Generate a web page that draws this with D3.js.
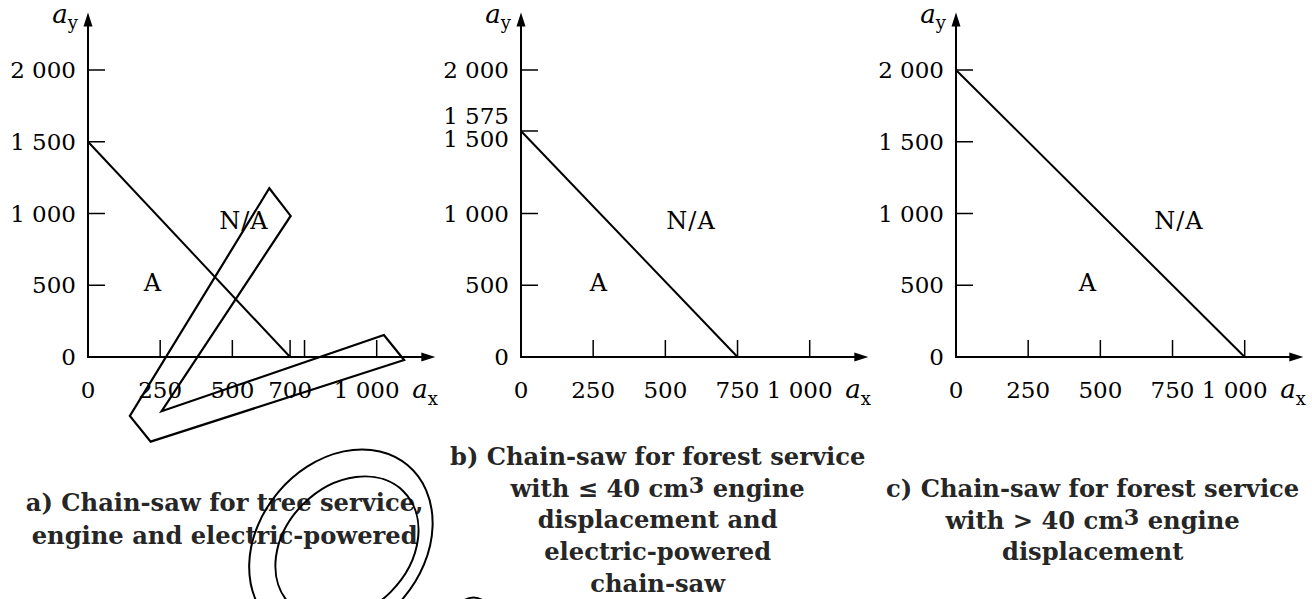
<!DOCTYPE html>
<meta charset="utf-8">
<script src="https://d3js.org/d3.v7.min.js"></script>
<style>
body { margin: 0; background: #fff; }
.tick-label { font-family: "DejaVu Serif", serif; font-size: 23px; fill: #000; }
.region { font-family: "DejaVu Serif", serif; font-size: 24px; fill: #000; letter-spacing: 1px; }
.axis-name { font-family: "DejaVu Serif", serif; font-size: 26px; fill: #000; }
.title { font-family: "DejaVu Serif", serif; font-weight: bold; font-size: 24.2px; fill: #262626; }
</style>
<body>
<div id="chart"></div>
</body>
<script>

// limit line of each panel: a_y on the y axis, a_x on the x axis
const axLimit = [700, 750, 1000];
const ayLimit = [1500, 1575, 2000];

// ticks drawn on each axis
const xTicks = [[250, 500, 700, 750, 1000], [250, 500, 750, 1000], [250, 500, 750, 1000]];
const yTicks = [[500, 1000, 1500, 2000], [500, 1000, 1575, 2000], [500, 1000, 1500, 2000]];

// tick labels
const xLabels = [[0, 250, 500, 700, 1000], [0, 250, 500, 750, 1000], [0, 250, 500, 750, 1000]];
const yLabels = [[0, 500, 1000, 1500, 2000], [0, 500, 1000, 1500, 1575, 2000], [0, 500, 1000, 1500, 2000]];

// where the "A" and "N/A" words sit (a_x, a_y)
const acceptX = [225, 270, 457];
const acceptY = [516, 516, 516];
const notAcceptX = [540, 589, 772];
const notAcceptY = [948, 948, 948];

// captions under each panel
const titles = [
	["a) Chain-saw for tree service,", "engine and electric-powered"],
	["b) Chain-saw for forest service", "with ≤ 40 cm3 engine", "displacement and", "electric-powered", "chain-saw"],
	["c) Chain-saw for forest service", "with > 40 cm3 engine", "displacement"]
];

// saw sketch drawn over panel a, in panel a units
const sawX = [628, 702, 255, 1025, 1095, 217, 145];
const sawY = [1176, 983, -378, 153, -21, -590, -411];
// handle rings (centre in panel a units)
const ringX = [876, 897, 1335];
const ringY = [-1310, -1331, -2094];

const width = 1312, height = 599;
const originX = [88, 521, 956];
const plotW = 288.7; // pixels for 1000 units
const fmt = d3.formatLocale({decimal: ".", thousands: " ", grouping: [3], currency: ["", ""]}).format(",d");

const svg = d3.select("#chart")
	.append("svg")
		.attr("width", width)
		.attr("height", height);

const line = d3.line();

function drawPanel(i) {
	const x = d3.scaleLinear().domain([0, 1000]).range([originX[i], originX[i] + plotW]);
	const y = d3.scaleLinear().domain([0, 2000]).range([357, 70]);
	const g = svg.append("g");

	// axes with arrow heads
	const xTip = x(1203), yTip = y(2400);
	g.append("path")
		.attr("d", line([[x(0), y(0)], [xTip - 10, y(0)]]))
		.attr("stroke", "#000").attr("stroke-width", 2).attr("fill", "none");
	g.append("path")
		.attr("d", line([[xTip, y(0)], [xTip - 14, y(0) - 4.5], [xTip - 14, y(0) + 4.5]]) + "Z")
		.attr("fill", "#000");
	g.append("path")
		.attr("d", line([[x(0), y(0) + 1], [x(0), yTip + 10]]))
		.attr("stroke", "#000").attr("stroke-width", 2).attr("fill", "none");
	g.append("path")
		.attr("d", line([[x(0), yTip], [x(0) - 4.5, yTip + 14], [x(0) + 4.5, yTip + 14]]) + "Z")
		.attr("fill", "#000");

	// ticks
	g.selectAll(".xt").data(xTicks[i]).enter().append("line")
		.attr("x1", d => x(d)).attr("x2", d => x(d))
		.attr("y1", y(0)).attr("y2", y(0) - 17)
		.attr("stroke", "#000").attr("stroke-width", 1.5);
	g.selectAll(".yt").data(yTicks[i]).enter().append("line")
		.attr("x1", x(0)).attr("x2", x(0) + 17)
		.attr("y1", d => y(d)).attr("y2", d => y(d))
		.attr("stroke", "#000").attr("stroke-width", 1.5);

	// tick labels
	g.selectAll(".xl").data(xLabels[i]).enter().append("text")
		.attr("class", "tick-label")
		.attr("x", d => x(d) - (d >= 1000 ? 10 : 0))
		.attr("y", y(0) + 41)
		.attr("text-anchor", "middle")
		.text(d => fmt(d));
	g.selectAll(".yl").data(yLabels[i]).enter().append("text")
		.attr("class", "tick-label")
		.attr("x", x(0) - 12)
		.attr("y", d => y(d))
		.attr("dy", d => {
			// 1 575 and 1 500 sit close together in panel b
			if (i == 1 && d == 1575) return "-0.3em";
			if (i == 1 && d == 1500) return "0.22em";
			return "0.35em";
		})
		.attr("text-anchor", "end")
		.text(d => fmt(d));

	// axis names
	const ay = g.append("text").attr("class", "axis-name")
		.attr("x", x(0) - 10).attr("y", 23).attr("text-anchor", "end");
	ay.append("tspan").style("font-style", "italic").text("a");
	ay.append("tspan").attr("font-size", 18).attr("dy", 6).text("y");
	const axn = g.append("text").attr("class", "axis-name")
		.attr("x", x(1123)).attr("y", y(0) + 41);
	axn.append("tspan").style("font-style", "italic").text("a");
	axn.append("tspan").attr("font-size", 18).attr("dy", 7).text("x");

	// limit line
	g.append("path")
		.attr("d", line([[x(0), y(ayLimit[i])], [x(axLimit[i]), y(0)]]))
		.attr("stroke", "#000").attr("stroke-width", 2).attr("fill", "none");

	// region words
	g.append("text").attr("class", "region")
		.attr("x", x(acceptX[i])).attr("y", y(acceptY[i])).attr("dy", "0.35em")
		.attr("text-anchor", "middle").text("A");
	g.append("text").attr("class", "region")
		.attr("x", x(notAcceptX[i])).attr("y", y(notAcceptY[i])).attr("dy", "0.35em")
		.attr("text-anchor", "middle").text("N/A");

	// caption
	const cx = (x(0) + x(1203)) / 2 - 37;
	const top = [511, 465, 497][i];
	const lh = i == 0 ? 33 : 31.7;
	const t = g.append("text").attr("class", "title").attr("text-anchor", "middle");
	titles[i].forEach((s, k) => {
		const tl = t.append("tspan").attr("x", cx).attr("y", top + k * lh);
		if (s.indexOf("cm3") >= 0) {
			const parts = s.split("cm3");
			tl.append("tspan").text(parts[0] + "cm");
			tl.append("tspan").attr("dy", -4).attr("font-size", "92%").text("3");
			tl.append("tspan").attr("dy", 4).text(parts[1]);
		} else {
			tl.text(s);
		}
	});

	return {x: x, y: y, g: g};
}

const pa = drawPanel(0);
drawPanel(1);
drawPanel(2);

// saw sketch on top of panel a
const sawPts = sawX.map((d, k) => [pa.x(d), pa.y(sawY[k])]);
svg.append("path")
	.attr("d", line(sawPts) + "Z")
	.attr("fill", "none")
	.attr("stroke", "#000")
	.attr("stroke-width", 2.2)
	.attr("stroke-linejoin", "miter");

const ringR = [[104, 82, -50], [80, 62, -45], [30, 60, 0]];
svg.selectAll(".ring").data(ringX).enter().append("ellipse")
	.attr("transform", (d, k) => `translate(${pa.x(d)},${pa.y(ringY[k])}) rotate(${ringR[k][2]})`)
	.attr("rx", (d, k) => ringR[k][0])
	.attr("ry", (d, k) => ringR[k][1])
	.attr("fill", "none")
	.attr("stroke", "#000")
	.attr("stroke-width", 2);

</script>
